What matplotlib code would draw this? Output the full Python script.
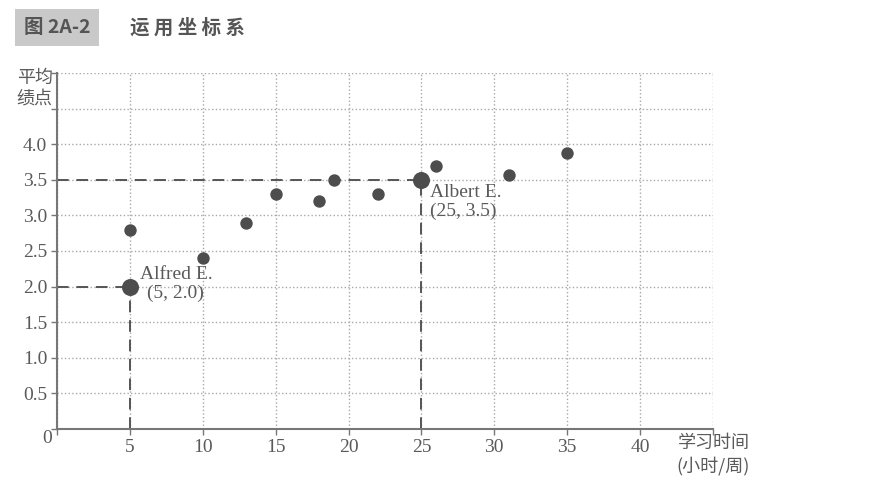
import matplotlib
matplotlib.use('Agg')
import matplotlib.pyplot as plt

# study hours per week vs grade point average
hours = [5, 10, 13, 15, 18, 19, 22, 26, 31, 35]
gpa = [2.8, 2.4, 2.9, 3.3, 3.2, 3.5, 3.3, 3.7, 3.57, 3.87]

# the two labelled students
named = ['Alfred E.', 'Albert E.']
named_hours = [5, 25]
named_gpa = [2.0, 3.5]

xticks = [5, 10, 15, 20, 25, 30, 35, 40]
yticks = [0.5, 1.0, 1.5, 2.0, 2.5, 3.0, 3.5, 4.0]

cjk = ['Noto Sans CJK SC', 'DejaVu Sans']
serif = 'Liberation Serif'
txt = '#5a5a5a'
dot = '#4d4d4d'

fig = plt.figure(figsize=(8.7, 4.97), dpi=100)
ax = fig.add_axes([0.0655, 0.137, 0.754, 0.716])

ax.set_xlim(0, 45)
ax.set_ylim(0, 5)
ax.set_xticks([0] + xticks + [45])
ax.set_yticks([0] + yticks + [4.5, 5.0])
ax.set_xticklabels([''] + [str(v) for v in xticks] + [''], fontfamily=serif, fontsize=14, color=txt)
ax.set_yticklabels([''] + ['%.1f' % v for v in yticks] + ['', ''], fontfamily=serif, fontsize=14, color=txt)
ax.tick_params(axis='both', length=4, width=1, color='#777777', pad=3)
ax.grid(True, color='#a8a8a8', linestyle=':', linewidth=1.0)
ax.set_axisbelow(True)
for s in ['top', 'right']:
    ax.spines[s].set_visible(False)
for s in ['left', 'bottom']:
    ax.spines[s].set_color('#777777')
    ax.spines[s].set_linewidth(1.5)

# dashed guides to the labelled points
for h, g in zip(named_hours, named_gpa):
    ax.plot([0, h], [g, g], linestyle=(0, (6, 4)), color='#555555', lw=1.4, zorder=2)
    ax.plot([h, h], [0, g], linestyle=(0, (6, 4)), color='#555555', lw=1.4, zorder=2)

ax.scatter(hours, gpa, s=80, color=dot, zorder=3, linewidths=0)
ax.scatter(named_hours, named_gpa, s=150, color=dot, zorder=3, linewidths=0)

# labels: Alfred centred a little above his point, Albert hanging below his
ax.annotate('%s\n(%g, %.1f)' % (named[0], named_hours[0], named_gpa[0]), (named_hours[0], named_gpa[0]),
            xytext=(7, 2), textcoords='offset points', ha='left', va='center', multialignment='center',
            fontfamily=serif, fontsize=14, color=txt, linespacing=1.1)
ax.annotate('%s\n(%g, %.1f)' % (named[1], named_hours[1], named_gpa[1]), (named_hours[1], named_gpa[1]),
            xytext=(6, -3), textcoords='offset points', ha='left', va='top',
            fontfamily=serif, fontsize=14, color=txt, linespacing=1.1)

# origin label and axis titles
fig.text(0.054, 0.118, '0', fontfamily=serif, fontsize=14, color=txt, ha='center', va='center')
fig.text(0.04, 0.822, '平均\n绩点', family=cjk, fontsize=13, color=txt, ha='center', va='center',
         linespacing=1.2)
fig.text(0.82, 0.085, '学习时间\n(小时/周)', family=cjk, fontsize=13, color=txt, ha='center', va='center',
         linespacing=1.3)

# figure caption
fig.text(0.066, 0.945, '图 2A-2', family=cjk, fontsize=14, fontweight='bold', color='#555555',
         ha='center', va='center',
         bbox=dict(boxstyle='square,pad=0.45', fc='#c9c9c9', ec='none'))
fig.text(0.15, 0.945, '运 用 坐 标 系', family=cjk, fontsize=14, fontweight='bold', color='#555555',
         ha='left', va='center')

fig.savefig('out.png', dpi=100)
